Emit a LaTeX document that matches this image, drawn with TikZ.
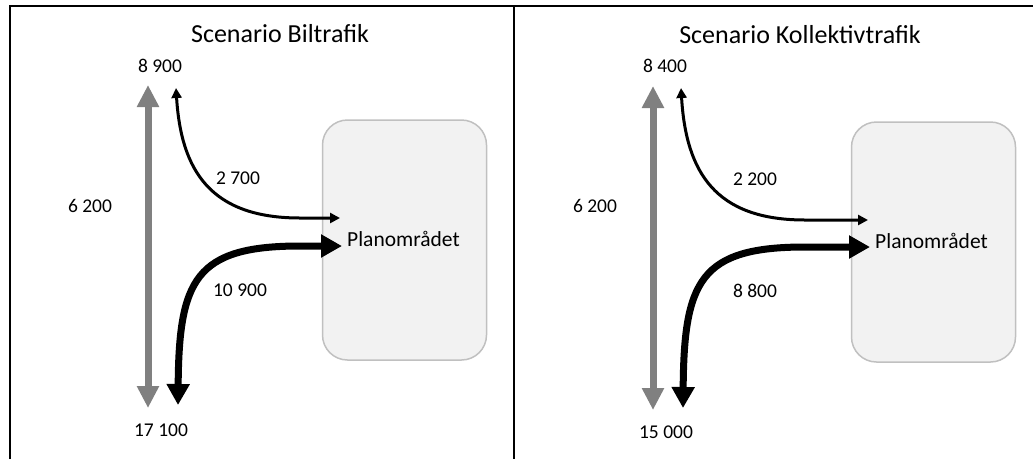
\documentclass[tikz,border=0pt]{standalone}
\usepackage{fontspec}
\setmainfont{Carlito}
\usetikzlibrary{arrows.meta}
\definecolor{boxgray}{HTML}{C0C0C0}
\definecolor{boxfill}{HTML}{F2F2F2}
\definecolor{throughgray}{HTML}{808080}
\begin{document}
\begin{tikzpicture}[x=1pt,y=-1pt,
  frame/.style={line width=2pt},
  zone/.style={draw=boxgray, fill=boxfill, line width=1.5pt, rounded corners=25pt, minimum width=164pt, minimum height=240pt, inner sep=0pt},
  titletext/.style={font=\fontsize{26}{30}\selectfont, anchor=base, inner sep=0pt},
  num/.style={font=\fontsize{19.5}{23}\selectfont, anchor=base, inner sep=0pt},
  areatext/.style={font=\fontsize{21.5}{25}\selectfont, anchor=base west, inner sep=0pt},
  through/.style={draw=throughgray, line width=7pt, {Triangle[width=21pt,length=22pt]}-{Triangle[width=21pt,length=22pt]}},
  thinflow/.style={draw=black, line width=3pt, {Triangle[width=10pt,length=10pt]}-{Triangle[width=10pt,length=10pt]}},
  thickflow/.style={draw=black, line width=7pt, {Triangle[width=22pt,length=21pt]}-{Triangle[width=22pt,length=21pt]}}
]
\useasboundingbox (0,0) rectangle (1033,459);

% frame
\draw[frame] (10,459) -- (10,6) -- (1033,6);
\draw[frame] (514,6) -- (514,459);

% ---------- left panel ----------
\node[zone] (zoneL) at (404.5,240) {};
\node[titletext] (titleL) at (280,42.5) {Scenario Biltrafik};
\node[num] (topL) at (160,72) {8 900};
\node[num] (throughL) at (90,212) {6 200};
\node[num] (inL) at (238,184) {2 700};
\node[num] (outL) at (240,296) {10 900};
\node[num] (botL) at (161,436) {17 100};
\node[areatext] (areaL) at (347,246.5) {Planområdet};

\coordinate (grayTopL) at (148,85);
\coordinate (grayBotL) at (148,408);
\coordinate (thinTopL) at (176,88);
\coordinate (thinEndL) at (340,218);
\coordinate (thickEndL) at (342,246);
\coordinate (thickBotL) at (178,405);

\draw[through] (grayTopL) -- (grayBotL);
\draw[thinflow] (thinTopL) .. controls (181,170) and (210,218) .. (300,218) -- (thinEndL);
\draw[thickflow] (thickBotL) .. controls (179,280) and (195,246) .. (300,246) -- (thickEndL);

% ---------- right panel ----------
\node[zone] (zoneR) at (933.5,242) {};
\node[titletext] (titleR) at (800,43) {Scenario Kollektivtrafik};
\node[num] (topR) at (665,72.5) {8 400};
\node[num] (throughR) at (595,212.5) {6 200};
\node[num] (inR) at (755,185) {2 200};
\node[num] (outR) at (755,297) {8 800};
\node[num] (botR) at (666,438) {15 000};
\node[areatext] (areaR) at (875,248) {Planområdet};

\coordinate (grayTopR) at (653,86);
\coordinate (grayBotR) at (653,410);
\coordinate (thinTopR) at (681,88);
\coordinate (thinEndR) at (868,220);
\coordinate (thickEndR) at (870,247);
\coordinate (thickBotR) at (683,408);

\draw[through] (grayTopR) -- (grayBotR);
\draw[thinflow] (thinTopR) .. controls (686,172) and (715,220) .. (805,220) -- (thinEndR);
\draw[thickflow] (thickBotR) .. controls (684,281) and (700,247) .. (805,247) -- (thickEndR);
\end{tikzpicture}
\end{document}
